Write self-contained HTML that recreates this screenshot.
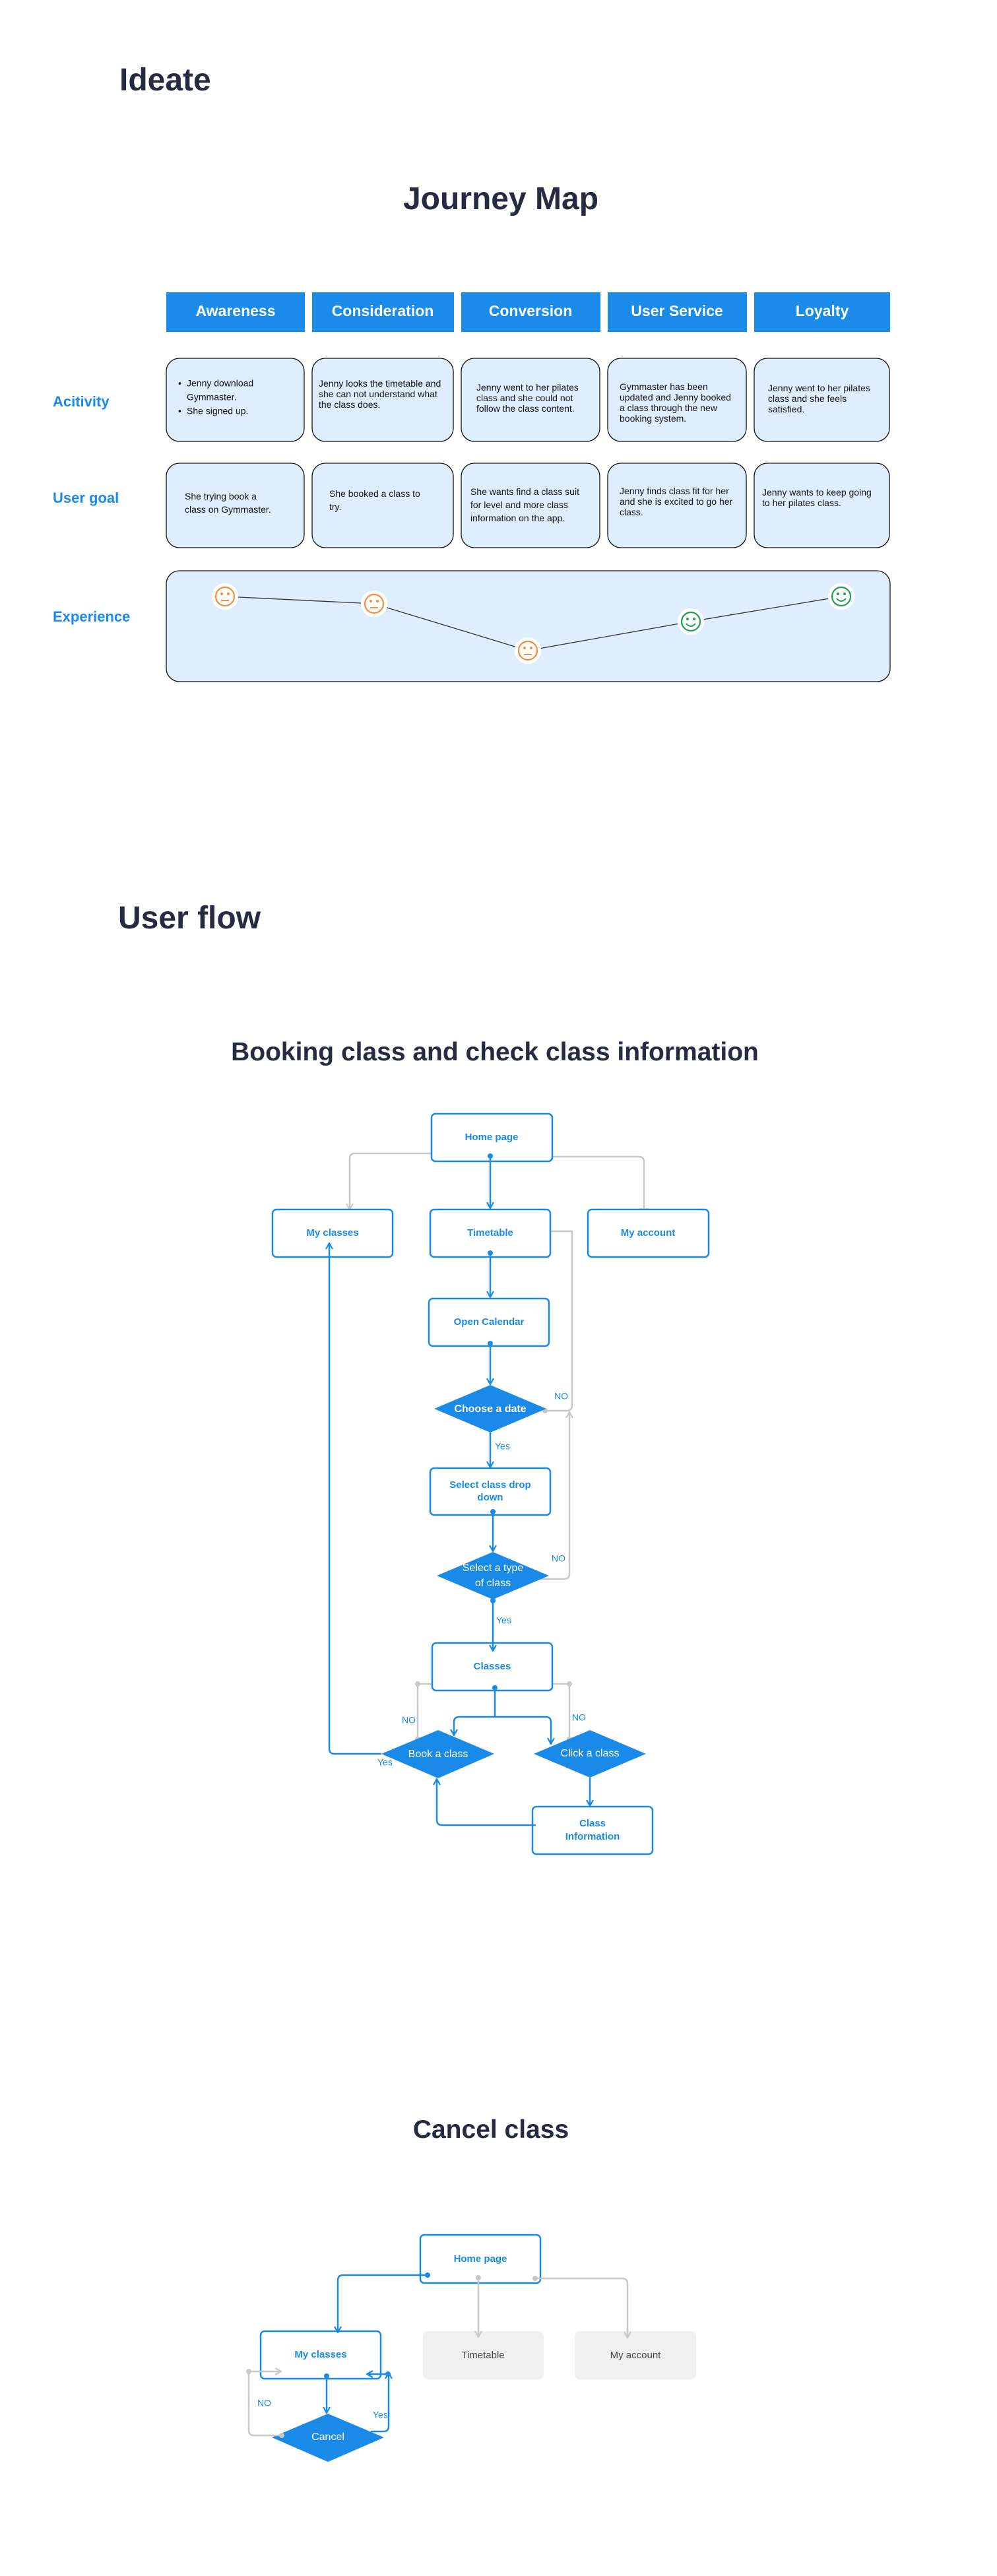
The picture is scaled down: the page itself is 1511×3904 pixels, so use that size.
<!DOCTYPE html>
<html><head><meta charset="utf-8"><style>
html,body{margin:0;padding:0;background:#fff;}
svg{display:block;}
text{font-family:"Liberation Sans",sans-serif;}
.h{fill:#262b42;font-weight:bold;}
.hd{fill:#fff;font-weight:bold;font-size:23px;text-anchor:middle;dominant-baseline:middle;}
.rl{fill:#1a8ae8;font-weight:bold;font-size:22px;dominant-baseline:middle;}
.bt{fill:#111;font-size:14px;dominant-baseline:middle;}
.jb{fill:#deeefe;stroke:#111;stroke-width:1.3;}
.nb{fill:#fff;stroke:#1a8ae8;stroke-width:2.5;}
.nt{fill:#1a8ae8;font-weight:bold;font-size:15px;text-anchor:middle;dominant-baseline:middle;}
.dm{fill:#1a8ae8;}
.dt{fill:#fff;font-size:16px;text-anchor:middle;dominant-baseline:middle;}
.bl{fill:none;stroke:#1a8ae8;stroke-width:2.5;}
.gl{fill:none;stroke:#c8c8c8;stroke-width:2.5;}
.lb{fill:#1a8ae8;font-size:14px;dominant-baseline:middle;}
.gb{fill:#f0f0f0;}
.gt{fill:#444;font-size:15px;text-anchor:middle;dominant-baseline:middle;}
</style></head><body>
<svg width="1511" height="3904" viewBox="0 0 1511 3904" xmlns="http://www.w3.org/2000/svg">
<defs>
<marker id="ab" viewBox="0 0 12 12" refX="11" refY="6" markerWidth="12" markerHeight="12" markerUnits="userSpaceOnUse" orient="auto"><path d="M2,1 L11,6 L2,11" fill="none" stroke="#1a8ae8" stroke-width="2.2"/></marker>
<marker id="ag" viewBox="0 0 12 12" refX="11" refY="6" markerWidth="12" markerHeight="12" markerUnits="userSpaceOnUse" orient="auto"><path d="M2,1 L11,6 L2,11" fill="none" stroke="#c8c8c8" stroke-width="2.2"/></marker>
</defs>

<!-- Ideate -->
<text x="181" y="137" class="h" font-size="48">Ideate</text>
<text x="759" y="317" class="h" font-size="48" text-anchor="middle">Journey Map</text>

<!-- headers -->
<rect x="252" y="443" width="210" height="60" fill="#1b8be9"/><text x="357" y="473" class="hd">Awareness</text>
<rect x="473" y="443" width="215" height="60" fill="#1b8be9"/><text x="580" y="473" class="hd">Consideration</text>
<rect x="699" y="443" width="211" height="60" fill="#1b8be9"/><text x="804" y="473" class="hd">Conversion</text>
<rect x="921" y="443" width="211" height="60" fill="#1b8be9"/><text x="1026" y="473" class="hd">User Service</text>
<rect x="1143" y="443" width="206" height="60" fill="#1b8be9"/><text x="1246" y="473" class="hd">Loyalty</text>

<text x="80" y="610" class="rl">Acitivity</text>
<text x="80" y="756" class="rl">User goal</text>
<text x="80" y="936" class="rl">Experience</text>

<!-- activity row -->
<rect x="252" y="543" width="209" height="126" rx="20" class="jb"/>
<rect x="473" y="543" width="214" height="126" rx="20" class="jb"/>
<rect x="699" y="543" width="210" height="126" rx="20" class="jb"/>
<rect x="921" y="543" width="210" height="126" rx="20" class="jb"/>
<rect x="1143" y="543" width="205" height="126" rx="20" class="jb"/>
<text x="270" y="582" class="bt">•</text><text x="283" y="582" class="bt">Jenny download</text>
<text x="283" y="603" class="bt">Gymmaster.</text>
<text x="270" y="624" class="bt">•</text><text x="283" y="624" class="bt">She signed up.</text>
<text class="bt" font-size="13.5"><tspan x="483" y="582">Jenny looks the timetable and</tspan><tspan x="483" y="598">she can not understand what</tspan><tspan x="483" y="614">the class does.</tspan></text>
<text class="bt" font-size="13.5"><tspan x="722" y="588">Jenny went to her pilates</tspan><tspan x="722" y="604">class and she could not</tspan><tspan x="722" y="620">follow the class content.</tspan></text>
<text class="bt" font-size="13.5"><tspan x="939" y="587">Gymmaster has been</tspan><tspan x="939" y="603">updated and Jenny booked</tspan><tspan x="939" y="619">a class through the new</tspan><tspan x="939" y="635">booking system.</tspan></text>
<text class="bt" font-size="13.5"><tspan x="1164" y="589">Jenny went to her pilates</tspan><tspan x="1164" y="605">class and she feels</tspan><tspan x="1164" y="621">satisfied.</tspan></text>

<!-- goal row -->
<rect x="252" y="702" width="209" height="128" rx="20" class="jb"/>
<rect x="473" y="702" width="214" height="128" rx="20" class="jb"/>
<rect x="699" y="702" width="210" height="128" rx="20" class="jb"/>
<rect x="921" y="702" width="210" height="128" rx="20" class="jb"/>
<rect x="1143" y="702" width="205" height="128" rx="20" class="jb"/>
<text class="bt"><tspan x="280" y="753">She trying book a</tspan><tspan x="280" y="773">class on Gymmaster.</tspan></text>
<text class="bt"><tspan x="499" y="749">She booked a class to</tspan><tspan x="499" y="769">try.</tspan></text>
<text class="bt"><tspan x="713" y="746">She wants find a class suit</tspan><tspan x="713" y="766">for level and more class</tspan><tspan x="713" y="786">information on the app.</tspan></text>
<text class="bt" font-size="13.5"><tspan x="939" y="745">Jenny finds class fit for her</tspan><tspan x="939" y="761">and she is excited to go her</tspan><tspan x="939" y="777">class.</tspan></text>
<text class="bt" font-size="13.5"><tspan x="1155" y="747">Jenny wants to keep going</tspan><tspan x="1155" y="763">to her pilates class.</tspan></text>

<!-- experience -->
<rect x="252" y="865" width="1097" height="168" rx="20" class="jb"/>
<polyline points="341,904 567,915 800,986 1047,942 1275,904" fill="none" stroke="#333" stroke-width="1.3"/>
<g stroke-width="2.2" fill="#fff">
<circle cx="341" cy="904" r="19" stroke="#fff"/><circle cx="341" cy="904" r="14" stroke="#f0903a"/>
<circle cx="567" cy="915" r="19" stroke="#fff"/><circle cx="567" cy="915" r="14" stroke="#f0903a"/>
<circle cx="800" cy="986" r="19" stroke="#fff"/><circle cx="800" cy="986" r="14" stroke="#f0903a"/>
<circle cx="1047" cy="942" r="19" stroke="#fff"/><circle cx="1047" cy="942" r="14" stroke="#1f9d55"/>
<circle cx="1275" cy="904" r="19" stroke="#fff"/><circle cx="1275" cy="904" r="14" stroke="#1f9d55"/>
</g>
<g fill="#f0903a"><circle cx="336" cy="900" r="2"/><circle cx="346" cy="900" r="2"/><circle cx="562" cy="911" r="2"/><circle cx="572" cy="911" r="2"/><circle cx="795" cy="982" r="2"/><circle cx="805" cy="982" r="2"/></g>
<g stroke="#f0903a" stroke-width="2"><line x1="335" y1="910" x2="347" y2="910"/><line x1="561" y1="921" x2="573" y2="921"/><line x1="794" y1="992" x2="806" y2="992"/></g>
<g fill="#1f9d55"><circle cx="1042" cy="938" r="2"/><circle cx="1052" cy="938" r="2"/><circle cx="1270" cy="900" r="2"/><circle cx="1280" cy="900" r="2"/></g>
<g stroke="#1f9d55" stroke-width="2" fill="none"><path d="M1040,945 Q1047,953 1054,945"/><path d="M1268,907 Q1275,915 1282,907"/></g>

<!-- User flow -->
<text x="179" y="1407" class="h" font-size="48">User flow</text>
<text x="750" y="1607" class="h" font-size="39" text-anchor="middle">Booking class and check class information</text>

<!-- grey connectors -->
<path d="M666,1748 H538 Q530,1748 530,1756 V1833" class="gl" marker-end="url(#ag)"/>
<circle cx="666" cy="1748" r="4" fill="#c8c8c8"/>
<path d="M830,1753 H968 Q976,1753 976,1761 V1840" class="gl" marker-end="url(#ag)"/>
<circle cx="830" cy="1753" r="4" fill="#c8c8c8"/>
<path d="M826,2138 H859 Q867,2138 867,2130 V1866 H806" class="gl" marker-end="url(#ag)"/>
<circle cx="826" cy="2138" r="4" fill="#c8c8c8"/>
<path d="M805,2393 H855 Q863,2393 863,2385 V2140" class="gl" marker-end="url(#ag)"/>
<circle cx="805" cy="2393" r="4" fill="#c8c8c8"/>
<path d="M633,2636 V2552 H682" class="gl" marker-end="url(#ag)"/>
<circle cx="633" cy="2636" r="4" fill="#c8c8c8"/><circle cx="633" cy="2552" r="4" fill="#c8c8c8"/>
<path d="M863,2636 V2552 H809" class="gl" marker-end="url(#ag)"/>
<circle cx="863" cy="2636" r="4" fill="#c8c8c8"/><circle cx="863" cy="2552" r="4" fill="#c8c8c8"/>

<!-- nodes -->
<rect x="654" y="1688" width="183" height="72" rx="6" class="nb"/><text x="745" y="1724" class="nt">Home page</text>
<rect x="413" y="1833" width="182" height="72" rx="6" class="nb"/><text x="504" y="1869" class="nt">My classes</text>
<rect x="652" y="1833" width="182" height="72" rx="6" class="nb"/><text x="743" y="1869" class="nt">Timetable</text>
<rect x="891" y="1833" width="183" height="72" rx="6" class="nb"/><text x="982" y="1869" class="nt">My account</text>
<rect x="650" y="1968" width="182" height="72" rx="6" class="nb"/><text x="741" y="2004" class="nt">Open Calendar</text>
<path d="M743,2099 L828,2135 L743,2171 L658,2135 Z" class="dm"/><text x="743" y="2136" class="dt" font-size="15" font-weight="bold">Choose a date</text>
<rect x="652" y="2225" width="182" height="71" rx="6" class="nb"/><text class="nt"><tspan x="743" y="2251">Select class drop</tspan><tspan x="743" y="2270">down</tspan></text>
<path d="M747,2352 L832,2388 L747,2424 L662,2388 Z" class="dm"/><text class="dt"><tspan x="747" y="2377">Select a type</tspan><tspan x="747" y="2400">of class</tspan></text>
<rect x="655" y="2490" width="182" height="72" rx="6" class="nb"/><text x="746" y="2526" class="nt">Classes</text>
<path d="M664,2622 L749,2658 L664,2695 L578,2658 Z" class="dm"/><text x="664" y="2659" class="dt">Book a class</text>
<path d="M894,2622 L979,2658 L894,2694 L809,2658 Z" class="dm"/><text x="894" y="2658" class="dt">Click a class</text>
<rect x="807" y="2738" width="182" height="72" rx="6" class="nb"/><text class="nt"><tspan x="898" y="2764">Class</tspan><tspan x="898" y="2784">Information</tspan></text>

<!-- blue connectors -->
<path d="M743,1752 V1831" class="bl" marker-end="url(#ab)"/><circle cx="743" cy="1752" r="4" fill="#1a8ae8"/>
<path d="M743,1899 V1966" class="bl" marker-end="url(#ab)"/><circle cx="743" cy="1899" r="4" fill="#1a8ae8"/>
<path d="M743,2036 V2098" class="bl" marker-end="url(#ab)"/><circle cx="743" cy="2036" r="4" fill="#1a8ae8"/>
<path d="M743,2171 V2224" class="bl" marker-end="url(#ab)"/>
<path d="M747,2291 V2351" class="bl" marker-end="url(#ab)"/><circle cx="747" cy="2291" r="4" fill="#1a8ae8"/>
<path d="M747,2426 V2502" class="bl" marker-end="url(#ab)"/><circle cx="747" cy="2426" r="4" fill="#1a8ae8"/>
<path d="M750,2558 V2602 H696 Q688,2602 688,2610 V2630" class="bl" marker-end="url(#ab)"/><circle cx="750" cy="2558" r="4" fill="#1a8ae8"/>
<path d="M750,2602 H827 Q835,2602 835,2610 V2643" class="bl" marker-end="url(#ab)"/>
<path d="M578,2658 H507 Q499,2658 499,2650 V1884" class="bl" marker-end="url(#ab)"/>
<path d="M894,2694 V2737" class="bl" marker-end="url(#ab)"/>
<path d="M812,2766 H670 Q662,2766 662,2758 V2696" class="bl" marker-end="url(#ab)"/>

<text x="840" y="2117" class="lb">NO</text>
<text x="750" y="2193" class="lb">Yes</text>
<text x="836" y="2363" class="lb">NO</text>
<text x="752" y="2457" class="lb">Yes</text>
<text x="609" y="2608" class="lb">NO</text>
<text x="867" y="2604" class="lb">NO</text>
<text x="572" y="2672" class="lb">Yes</text>

<!-- Cancel class -->
<text x="744" y="3240" class="h" font-size="39" text-anchor="middle">Cancel class</text>

<rect x="641" y="3533" width="183" height="73" rx="8" class="gb"/><text x="732" y="3570" class="gt">Timetable</text>
<rect x="871" y="3533" width="184" height="73" rx="8" class="gb"/><text x="963" y="3570" class="gt">My account</text>
<rect x="637" y="3387" width="182" height="73" rx="6" class="nb"/><text x="728" y="3424" class="nt">Home page</text>
<rect x="395" y="3533" width="182" height="72" rx="6" class="nb"/><text x="486" y="3569" class="nt">My classes</text>
<path d="M497,3658 L582,3694 L497,3731 L412,3694 Z" class="dm"/><text x="497" y="3694" class="dt">Cancel</text>

<path d="M648,3448 H520 Q512,3448 512,3456 V3535" class="bl" marker-end="url(#ab)"/><circle cx="648" cy="3448" r="4" fill="#1a8ae8"/>
<path d="M725,3452 V3542" class="gl" marker-end="url(#ag)"/><circle cx="725" cy="3452" r="4" fill="#c8c8c8"/>
<path d="M811,3453 H943 Q951,3453 951,3461 V3543" class="gl" marker-end="url(#ag)"/><circle cx="811" cy="3453" r="4" fill="#c8c8c8"/>
<path d="M495,3601 V3657" class="bl" marker-end="url(#ab)"/><circle cx="495" cy="3601" r="4" fill="#1a8ae8"/>
<path d="M427,3691 H385 Q377,3691 377,3683 V3594 H426" class="gl" marker-end="url(#ag)"/><circle cx="427" cy="3691" r="4" fill="#c8c8c8"/><circle cx="377" cy="3594" r="4" fill="#c8c8c8"/>
<path d="M562,3685 H581 Q589,3685 589,3677 V3596" class="bl" marker-end="url(#ab)"/>
<path d="M589,3598 H556" class="bl" marker-end="url(#ab)"/><circle cx="588" cy="3598" r="4" fill="#1a8ae8"/>
<text x="390" y="3643" class="lb">NO</text>
<text x="565" y="3661" class="lb">Yes</text>
</svg>
</body></html>
